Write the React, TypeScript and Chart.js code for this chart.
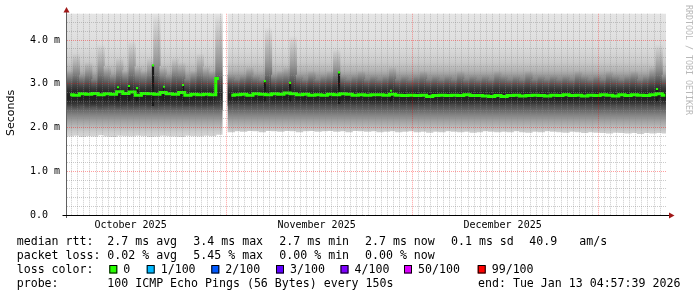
import React, { useEffect, useRef } from 'react';
import { Chart, registerables } from 'chart.js';

Chart.register(...registerables);

// ---------------- data (x = days from the left edge of the graph) ----------------
const median: (number | null)[] = [
  2.75, 2.74, 2.77, 2.76, 2.78, 2.75, 2.77, 2.76, 2.82, 2.78,
  2.81, 2.74, 2.78, 2.77, 2.76, 2.80, 2.77, 2.76, 2.80, 2.74,
  2.76, 2.75, 2.76, 2.75, 3.12, null, 2.74, 2.75, 2.76, 2.74,
  2.77, 2.76, 2.75, 2.77, 2.76, 2.79, 2.77, 2.75, 2.76, 2.74,
  2.75, 2.74, 2.76, 2.75, 2.77, 2.76, 2.74, 2.75, 2.74, 2.75,
  2.75, 2.74, 2.76, 2.74, 2.73, 2.74, 2.73, 2.74, 2.71, 2.73,
  2.74, 2.73, 2.74, 2.73, 2.75, 2.73, 2.73, 2.72, 2.71, 2.73,
  2.71, 2.73, 2.74, 2.72, 2.73, 2.74, 2.73, 2.72, 2.74, 2.73,
  2.75, 2.73, 2.74, 2.72, 2.74, 2.73, 2.75, 2.74, 2.72, 2.75,
  2.73, 2.75, 2.74, 2.73, 2.75, 2.77, 2.74,
];

const smokeLow: (number | null)[] = [
  1.80, 1.82, 1.79, 1.81, 1.80, 1.83, 1.80, 1.79, 1.82, 1.81,
  1.80, 1.82, 1.81, 1.79, 1.80, 1.82, 1.81, 1.80, 1.79, 1.82,
  1.81, 1.80, 1.82, 1.81, 1.84, null, 1.90, 1.92, 1.91, 1.93,
  1.92, 1.90, 1.93, 1.92, 1.91, 1.93, 1.92, 1.90, 1.92, 1.93,
  1.91, 1.92, 1.93, 1.91, 1.92, 1.90, 1.93, 1.92, 1.91, 1.92,
  1.90, 1.91, 1.92, 1.90, 1.91, 1.92, 1.90, 1.91, 1.89, 1.91,
  1.90, 1.92, 1.91, 1.90, 1.91, 1.89, 1.90, 1.92, 1.91, 1.90,
  1.91, 1.90, 1.92, 1.90, 1.89, 1.91, 1.90, 1.92, 1.91, 1.90,
  1.89, 1.91, 1.90, 1.88, 1.90, 1.89, 1.88, 1.87, 1.89, 1.88,
  1.87, 1.88, 1.86, 1.88, 1.87, 1.88, 1.87,
];

const smokeHigh: (number | null)[] = [
  4.75, 4.72, 4.75, 4.70, 4.75, 4.75, 4.73, 4.75, 4.70, 4.75,
  4.75, 4.74, 4.75, 4.72, 4.75, 4.75, 4.73, 4.75, 4.75, 4.71,
  4.75, 4.75, 4.74, 4.75, 4.75, null, 4.75, 4.72, 4.75, 4.75,
  4.74, 4.75, 4.75, 4.73, 4.75, 4.75, 4.75, 4.72, 4.75, 4.75,
  4.75, 4.74, 4.75, 4.75, 4.72, 4.75, 4.75, 4.75, 4.73, 4.75,
  4.75, 4.75, 4.74, 4.75, 4.72, 4.75, 4.75, 4.73, 4.75, 4.75,
  4.74, 4.75, 4.75, 4.72, 4.75, 4.75, 4.73, 4.75, 4.75, 4.74,
  4.75, 4.72, 4.75, 4.75, 4.73, 4.75, 4.75, 4.74, 4.75, 4.72,
  4.75, 4.75, 4.73, 4.75, 4.75, 4.74, 4.75, 4.72, 4.75, 4.75,
  4.73, 4.75, 4.75, 4.74, 4.75, 4.75, 4.73,
];

const denseLow: (number | null)[] = [
  2.45, 2.40, 2.48, 2.42, 2.46, 2.38, 2.44, 2.47, 2.41, 2.45,
  2.40, 2.44, 2.46, 2.42, 2.35, 2.45, 2.47, 2.43, 2.44, 2.46,
  2.45, 2.42, 2.44, 2.46, 2.40, null, 2.50, 2.52, 2.50, 2.48,
  2.51, 2.52, 2.45, 2.50, 2.51, 2.49, 2.46, 2.52, 2.51, 2.50,
  2.52, 2.51, 2.50, 2.47, 2.51, 2.52, 2.50, 2.51, 2.52, 2.50,
  2.51, 2.50, 2.49, 2.52, 2.50, 2.51, 2.50, 2.49, 2.52, 2.50,
  2.51, 2.50, 2.52, 2.49, 2.51, 2.50, 2.52, 2.50, 2.51, 2.49,
  2.50, 2.52, 2.50, 2.51, 2.49, 2.51, 2.50, 2.52, 2.50, 2.51,
  2.50, 2.51, 2.49, 2.50, 2.52, 2.50, 2.51, 2.49, 2.50, 2.51,
  2.50, 2.49, 2.51, 2.50, 2.48, 2.45, 2.50,
];

const denseHigh: (number | null)[] = [
  3.3, 3.7, 3.2, 3.5, 3.1, 3.9, 3.4, 3.2, 3.6, 3.3,
  4.0, 3.4, 3.3, 3.6, 4.6, 3.4, 3.2, 3.6, 3.5, 3.1,
  3.3, 3.7, 3.4, 3.3, 4.6, null, 3.2, 3.1, 3.2, 3.4,
  3.2, 3.1, 4.3, 3.2, 3.3, 3.4, 4.1, 3.2, 3.1, 3.3,
  3.1, 3.2, 3.3, 3.8, 3.2, 3.1, 3.2, 3.3, 3.1, 3.2,
  3.1, 3.2, 3.4, 3.1, 3.2, 3.1, 3.2, 3.3, 3.1, 3.2,
  3.1, 3.2, 3.1, 3.3, 3.1, 3.2, 3.1, 3.2, 3.1, 3.3,
  3.2, 3.1, 3.2, 3.1, 3.3, 3.1, 3.2, 3.1, 3.2, 3.1,
  3.2, 3.1, 3.3, 3.2, 3.1, 3.2, 3.1, 3.3, 3.2, 3.1,
  3.2, 3.3, 3.1, 3.2, 3.4, 3.9, 3.2,
];

// short median excursions
const spikeDay = [8.23, 10.0, 11.3, 13.87, 15.65, 18.7, 31.9, 35.97, 43.87, 52.26, 95.16];
const spikeLow = [2.6, 2.6, 2.6, 2.5, 2.6, 2.6, 2.6, 2.6, 2.55, 2.6, 2.6];
const spikeHigh = [2.92, 2.95, 2.90, 3.42, 2.93, 2.97, 3.06, 3.02, 3.26, 2.84, 2.88];

// axes
const X_MAX = 96.61;
const monthLabels = ['October 2025', 'November 2025', 'December 2025'];
const monthLabelDays = [10.25, 40.25, 70.25];
const monthStartDays = [25.7, 55.7, 85.7];
const yTickLabels = ['0.0  ', '1.0 m', '2.0 m', '3.0 m', '4.0 m'];

// legend texts
const legendRows: [string, number][][] = [
  [['median rtt:', 16.7], ['2.7 ms avg', 107.3], ['3.4 ms max', 193.3], ['2.7 ms min', 279.3], ['2.7 ms now', 365], ['0.1 ms sd', 451], ['40.9', 529.3], ['am/s', 579.3]],
  [['packet loss:', 16.7], ['0.02 % avg', 107.3], ['5.45 % max', 193.3], ['0.00 % min', 279.3], ['0.00 % now', 365]],
  [['loss color:', 16.7]],
  [['probe:', 16.7], ['100 ICMP Echo Pings (56 Bytes) every 150s', 107.3], ['end: Tue Jan 13 04:57:39 2026', 478]],
];
const lossLabels = ['0', '1/100', '2/100', '3/100', '4/100', '50/100', '99/100'];
const lossColors = ['#26ff00', '#00b8ff', '#0059ff', '#5e00ff', '#7e00ff', '#dd00ff', '#ff0000'];
const lossTextX = [123.3, 160.7, 225.3, 290, 354.5, 418, 491.7];

// ---------------- styles ----------------
const GREEN = '#26ff00';
// smoke shade (gray level) by value
const SHADE: [number, number][] = [
  [5.0, 230], [4.2, 226], [3.8, 218], [3.5, 202], [3.3, 178], [3.15, 145], [3.0, 105],
  [2.9, 75], [2.8, 55], [2.7, 48], [2.6, 58], [2.5, 78], [2.4, 102], [2.3, 128],
  [2.2, 150], [2.1, 170], [2.0, 188], [1.9, 204], [1.8, 214], [1.5, 226],
];

function grayAt(v: number) {
  for (let i = 0; i < SHADE.length - 1; i++) {
    const [a, ga] = SHADE[i];
    const [b, gb] = SHADE[i + 1];
    if (v <= a && v >= b) return ga + ((v - a) / (b - a)) * (gb - ga);
  }
  return v > SHADE[0][0] ? SHADE[0][1] : SHADE[SHADE.length - 1][1];
}
const rgb = (g: number) => {
  const n = Math.max(0, Math.min(255, Math.round(g)));
  return `rgb(${n},${n},${n})`;
};

function smokeGradient(chart: any) {
  const { ctx, chartArea, scales } = chart;
  if (!chartArea || !scales.y) return '#ccc';
  const y = scales.y;
  const p0 = y.getPixelForValue(5);
  const p1 = y.getPixelForValue(1.5);
  const g = ctx.createLinearGradient(0, p0, 0, p1);
  for (const [v, gr] of SHADE) {
    const t = Math.min(1, Math.max(0, (y.getPixelForValue(v) - p0) / (p1 - p0)));
    g.addColorStop(t, rgb(gr));
  }
  return g;
}

function streakGradient(c: any) {
  const chart = c.chart;
  const raw = c.raw;
  if (!raw || !chart.chartArea || !chart.scales.y) return 'rgba(0,0,0,0)';
  const [lo, hi] = raw.y;
  const y = chart.scales.y;
  const p0 = y.getPixelForValue(lo);
  const p1 = y.getPixelForValue(hi);
  const g = chart.ctx.createLinearGradient(0, p0, 0, p1);
  const N = 12;
  for (let k = 0; k <= N; k++) {
    const t = k / N;
    const v = lo + (hi - lo) * t;
    const w = t < 0.2 ? t / 0.2 : (1 - t) / 0.8;
    g.addColorStop(t, rgb(grayAt(v) * (1 - 0.38 * Math.pow(Math.max(0, w), 0.8))));
  }
  return g;
}

const near = (a: number, b: number) => Math.abs(a - b) < 1e-6;

const decorPlugin = {
  id: 'decor',
  beforeDraw(chart: any) {
    const c = chart.ctx;
    c.save();
    c.fillStyle = '#ffffff';
    c.fillRect(0, 0, chart.width, chart.height);
    c.restore();
  },
  afterDraw(chart: any) {
    const c = chart.ctx;
    const { left, right, bottom } = chart.chartArea;
    c.save();
    c.strokeStyle = '#606060';
    c.lineWidth = 1;
    c.beginPath();
    c.moveTo(left - 0.5, 11);
    c.lineTo(left - 0.5, bottom + 3);
    c.stroke();
    c.strokeStyle = '#000000';
    c.beginPath();
    c.moveTo(62.5, bottom + 0.5);
    c.lineTo(right + 3, bottom + 0.5);
    c.stroke();
    c.fillStyle = '#a01818';
    c.beginPath();
    c.moveTo(left - 3.5, 12.5);
    c.lineTo(left + 2.5, 12.5);
    c.lineTo(left - 0.5, 7);
    c.closePath();
    c.fill();
    c.beginPath();
    c.moveTo(right + 3, bottom - 2.5);
    c.lineTo(right + 3, bottom + 3.5);
    c.lineTo(right + 8.5, bottom + 0.5);
    c.closePath();
    c.fill();

    c.save();
    c.translate(11, 113);
    c.rotate(-Math.PI / 2);
    c.font = '11px "DejaVu Sans"';
    c.fillStyle = '#000';
    c.textAlign = 'center';
    c.textBaseline = 'middle';
    c.fillText('Seconds', 0, 0);
    c.restore();

    c.save();
    c.translate(688, 5);
    c.rotate(Math.PI / 2);
    c.font = '8.3px "DejaVu Sans Mono"';
    c.fillStyle = '#b8b8b8';
    c.textAlign = 'left';
    c.textBaseline = 'middle';
    c.fillText('RRDTOOL / TOBI OETIKER', 0, 0);
    c.restore();

    c.font = '11.6px "DejaVu Sans Mono"';
    c.fillStyle = '#000';
    c.textAlign = 'left';
    c.textBaseline = 'alphabetic';
    const baselines = [245, 259, 273, 287];
    legendRows.forEach((row, r) => {
      row.forEach(([t, x]) => c.fillText(t, x, baselines[r]));
    });
    lossLabels.forEach((lab, i) => {
      const tx = lossTextX[i];
      c.fillStyle = lossColors[i];
      c.fillRect(tx - 14, 265.5, 8, 8);
      c.strokeStyle = '#000';
      c.lineWidth = 1;
      c.strokeRect(tx - 13.5, 265.5, 7, 7.5);
      c.fillStyle = '#000';
      c.fillText(lab, tx, baselines[2]);
    });
    c.restore();
  },
};

export default function App() {
  const ref = useRef<HTMLCanvasElement | null>(null);

  useEffect(() => {
    if (!ref.current) return;
    const idx = median.map((_, i) => i);
    const outer = idx
      .filter((i) => smokeLow[i] !== null && smokeHigh[i] !== null)
      .map((i) => ({ x: i + 0.5, y: [smokeLow[i], smokeHigh[i]] }));
    const inner = idx
      .filter((i) => denseLow[i] !== null && denseHigh[i] !== null)
      .map((i) => ({ x: i + 0.5, y: [denseLow[i], denseHigh[i]] }));
    const med = idx.map((i) => ({ x: i + 0.5, y: median[i] }));
    const spikes = spikeDay.map((d, i) => ({ x: d, y: [spikeLow[i], spikeHigh[i]] }));
    const spikeTops = spikeDay.map((d, i) => ({ x: d, y: spikeHigh[i] }));

    const xTicks: number[] = [];
    for (let k = 0; k < 96; k++) xTicks.push(0.7 + k);
    monthLabelDays.forEach((d) => xTicks.push(d));
    xTicks.sort((a, b) => a - b);

    const chart = new Chart(ref.current, {
      type: 'bar',
      data: {
        datasets: [
          {
            type: 'bar',
            data: outer as any,
            backgroundColor: (ctx: any) => smokeGradient(ctx.chart),
            borderWidth: 0,
            grouped: false,
            barThickness: 6.6,
            order: 10,
          } as any,
          {
            type: 'bar',
            data: inner as any,
            backgroundColor: (ctx: any) => streakGradient(ctx),
            borderWidth: 0,
            grouped: false,
            barThickness: 6.6,
            order: 9,
          } as any,
          {
            type: 'bar',
            data: spikes as any,
            backgroundColor: '#1a1a1a',
            borderWidth: 0,
            grouped: false,
            barThickness: 1.6,
            order: 8,
          } as any,
          {
            type: 'line',
            data: med as any,
            borderColor: GREEN,
            borderWidth: 3,
            stepped: 'middle',
            pointRadius: 0,
            spanGaps: false,
            borderCapStyle: 'butt',
            borderJoinStyle: 'miter',
            order: 2,
          } as any,
          {
            type: 'line',
            data: spikeTops as any,
            showLine: false,
            pointStyle: 'rect',
            pointRadius: 1.5,
            pointBackgroundColor: GREEN,
            pointBorderWidth: 0,
            order: 1,
          } as any,
        ],
      },
      options: {
        responsive: false,
        maintainAspectRatio: false,
        animation: false,
        events: [],
        layout: { padding: { left: 0, right: 31, top: 13.75, bottom: 0 } },
        plugins: { legend: { display: false }, tooltip: { enabled: false }, title: { display: false } },
        scales: {
          x: {
            type: 'linear',
            min: 0,
            max: X_MAX,
            offset: false,
            afterBuildTicks: (s: any) => {
              s.ticks = xTicks.map((v) => ({ value: v }));
            },
            afterFit: (s: any) => {
              s.height = 82;
            },
            grid: {
              offset: false,
              drawTicks: false,
              lineWidth: 1,
              z: 1,
              color: (ctx: any) => {
                const v = ctx.tick ? ctx.tick.value : 0;
                if (monthLabelDays.some((d) => near(d, v))) return 'rgba(0,0,0,0)';
                if (monthStartDays.some((d) => near(d, v))) return 'rgba(255,0,0,0.38)';
                return 'rgba(140,140,140,0.45)';
              },
            },
            border: { display: false, dash: [1, 1] },
            ticks: {
              autoSkip: false,
              maxRotation: 0,
              minRotation: 0,
              padding: 4,
              color: '#000',
              font: { family: 'DejaVu Sans Mono', size: 10 },
              callback: (v: any) => {
                const i = monthLabelDays.findIndex((d) => near(d, Number(v)));
                return i >= 0 ? monthLabels[i] : '';
              },
            },
          } as any,
          y: {
            type: 'linear',
            min: 0,
            max: 4.6,
            afterFit: (s: any) => {
              s.width = 67;
            },
            grid: {
              drawTicks: false,
              lineWidth: 1,
              z: 1,
              color: (ctx: any) => {
                const v = ctx.tick ? ctx.tick.value : 0;
                if (v < 0.01 || v > 4.55) return 'rgba(0,0,0,0)';
                if (near(v, Math.round(v))) return 'rgba(255,0,0,0.38)';
                return 'rgba(140,140,140,0.45)';
              },
            },
            border: { display: false, dash: [1, 1] },
            ticks: {
              stepSize: 0.2,
              autoSkip: false,
              padding: 7,
              color: '#000',
              font: { family: 'DejaVu Sans Mono', size: 10 },
              callback: (v: any) => {
                const n = Number(v);
                const r = Math.round(n);
                return Math.abs(n - r) < 1e-6 ? yTickLabels[r] ?? '' : '';
              },
            },
          } as any,
        },
      },
      plugins: [decorPlugin as any],
    });
    return () => chart.destroy();
  }, []);

  return (
    <div style={{ position: 'fixed', left: 0, top: 0, width: 697, height: 297, background: '#fff' }}>
      <canvas ref={ref} width={697} height={297} style={{ display: 'block', width: 697, height: 297 }} />
    </div>
  );
}
